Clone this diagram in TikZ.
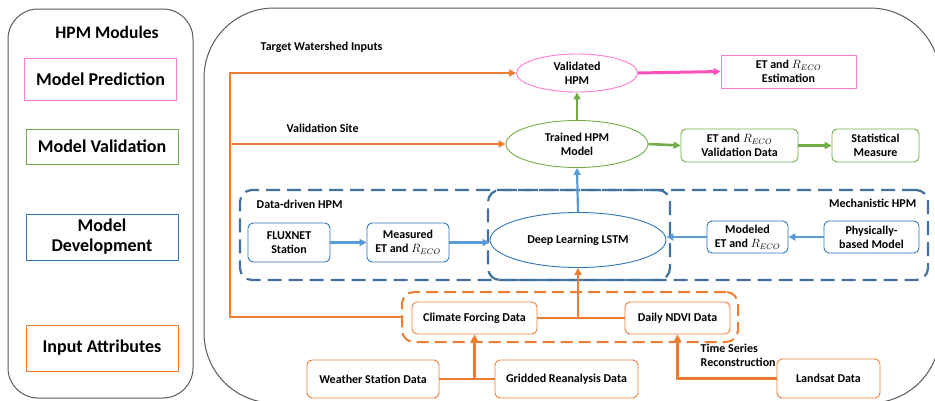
\documentclass[tikz,border=0pt]{standalone}
\usepackage{fontspec}
\setmainfont{Carlito}
\usetikzlibrary{arrows.meta,shapes.geometric}

\definecolor{hpmorange}{RGB}{237,125,49}
\definecolor{hpmgreen}{RGB}{112,173,71}
\definecolor{hpmblue}{RGB}{46,117,182}
\definecolor{hpmlight}{RGB}{91,155,213}
\definecolor{hpmdash}{RGB}{65,113,156}
\definecolor{hpmpink}{RGB}{255,120,210}
\definecolor{hpmmag}{RGB}{255,80,190}

\tikzset{every picture/.style={line width=0.75pt}}
\tikzset{
  modbox/.style={draw, minimum width=152, minimum height=#1, font=\bfseries\fontsize{18}{20}\selectfont, align=center, inner sep=0.75pt},
  rbox/.style={draw, rounded corners=5pt, line width=0.9pt, align=center, inner sep=0.75pt},
  oval/.style={draw, ellipse, line width=0.9pt, align=center, inner sep=0.75pt},
  tip/.style={-{Triangle[length=7pt,width=7pt]}},
  oline/.style={hpmorange, line width=2.6pt},
  bline/.style={hpmlight, line width=2.2pt},
  gline/.style={hpmgreen, line width=2.6pt},
  dbox/.style={draw, dash pattern=on 14pt off 7pt, rounded corners=12pt, line width=2.2pt, inner sep=0pt}
}

\begin{document}
\begin{tikzpicture}[x=1pt,y=1pt,yscale=-1,xscale=1, font=\bfseries\fontsize{12}{14}\selectfont]
    \useasboundingbox (0,0) rectangle (935,400);

    %Shape: Rounded Rect [id:modules]
    \draw [color=black!65, line width=1pt, rounded corners=30pt] (8,9) rectangle (193,398);
    %Shape: Rounded Rect [id:workflow]
    \draw [color=black!65, line width=1pt, rounded corners=70pt] (204,8) rectangle (940,403);

    % Text Node
    \node [font=\bfseries\fontsize{17.5}{20}\selectfont] (modtitle) at (107,32) {HPM Modules};
    \node [modbox=42, draw=hpmpink] (modpred) at (100.5,79) {Model Prediction};
    \node [modbox=35, draw=hpmgreen] (modval) at (102,146.5) {Model Validation};
    \node [modbox=46, draw=hpmblue] (moddev) at (102,237) {Model\\Development};
    \node [modbox=46, draw=hpmorange] (modin) at (102,348) {Input Attributes};

    %Shape: Dashed Boxes
    \node [dbox, draw=hpmdash, minimum width=430, minimum height=90] (ddbox) at (455,235) {};
    \node [dbox, draw=hpmdash, minimum width=440, minimum height=90] (mebox) at (708,235) {};
    \node [dbox, draw=hpmorange, dash pattern=on 12pt off 6pt, line width=2pt, minimum width=336, minimum height=50] (inbox) at (570,317) {};

    % Text Node
    \node [anchor=west] (tgtlabel) at (257,47) {Target Watershed Inputs};
    \node [anchor=west] (vsitelabel) at (283,128) {Validation Site};
    \node [anchor=west] (ddlabel) at (253,204) {Data-driven HPM};
    \node [anchor=east] (melabel) at (920,203) {Mechanistic HPM};
    \node [anchor=north west, align=left] (tslabel) at (697,340) {Time Series\\Reconstruction};

    %Ellipses
    \node [oval, draw=hpmpink, minimum width=121, minimum height=38] (valhpm) at (577,73) {Validated\\HPM};
    \node [oval, draw=hpmgreen, minimum width=142, minimum height=47] (trained) at (577,144) {Trained HPM\\Model};
    \node [oval, draw=hpmblue, minimum width=176, minimum height=55] (lstm) at (578,240) {Deep Learning LSTM};

    %Boxes
    \node [draw=hpmpink, line width=0.9pt, align=center, inner sep=0.75pt, minimum width=135, minimum height=33] (estim) at (788.5,71.5) {ET and $R_{ECO}$\\Estimation};
    \node [rbox, draw=hpmgreen, minimum width=117, minimum height=33] (valdata) at (739.5,145.5) {ET and $R_{ECO}$\\Validation Data};
    \node [rbox, draw=hpmgreen, minimum width=87, minimum height=33] (stat) at (875.5,145.5) {Statistical\\Measure};
    \node [rbox, draw=hpmblue, minimum width=82, minimum height=39] (flux) at (289,242.5) {FLUXNET\\Station};
    \node [rbox, draw=hpmblue, minimum width=82, minimum height=39] (meas) at (408,242.5) {Measured\\ET and $R_{ECO}$};
    \node [rbox, draw=hpmblue, minimum width=81, minimum height=32] (modeled) at (747.5,237) {Modeled\\ET and $R_{ECO}$};
    \node [rbox, draw=hpmblue, minimum width=95, minimum height=32] (phys) at (871.5,237) {Physically-\\based Model};
    \node [rbox, draw=hpmorange, minimum width=125, minimum height=32] (climate) at (474.5,318) {Climate Forcing Data};
    \node [rbox, draw=hpmorange, minimum width=105, minimum height=32] (ndvi) at (677.5,318) {Daily NDVI Data};
    \node [rbox, draw=hpmorange, minimum width=132, minimum height=38] (weather) at (373,379) {Weather Station Data};
    \node [rbox, draw=hpmorange, minimum width=143, minimum height=38] (gridded) at (566.5,379) {Gridded Reanalysis Data};
    \node [rbox, draw=hpmorange, minimum width=103, minimum height=39] (landsat) at (828.5,378.5) {Landsat Data};

    %Coordinates
    \coordinate (trunk) at (230,73);
    \coordinate (valsite) at (232,144);

    %Orange Lines
    \draw [oline, tip] (inbox.west) -| (trunk) -- (valhpm.west);
    \draw [oline, tip] (valsite) -- (trained.west);
    \draw [oline] (climate.east) -- (ndvi.west);
    \draw [oline, tip] (climate.east -| lstm.south) -- (lstm.south);
    \draw [oline] (weather.east) -- (gridded.west);
    \draw [oline, tip] (weather.east -| climate.south) -- (climate.south);
    \draw [oline, tip] (landsat.west) -| (ndvi.south);

    %Blue Lines
    \draw [bline, tip] (flux.east |- meas.west) -- (meas.west);
    \draw [bline, tip] (meas.east) -- (meas.east -| lstm.west);
    \draw [bline, tip] (phys.west) -- (modeled.east);
    \draw [bline, tip] (modeled.west) -- (modeled.west -| lstm.east);
    \draw [bline, tip] (lstm.north) -- (trained.south);

    %Green Lines
    \draw [gline, tip] (trained.north) -- (valhpm.south);
    \draw [gline, tip] (trained.east) -- (valdata.west);
    \draw [gline, tip] (valdata.east) -- (stat.west);

    %Pink Line
    \draw [hpmmag, line width=3pt, tip] (valhpm.east) -- (estim.west);

\end{tikzpicture}
\end{document}
